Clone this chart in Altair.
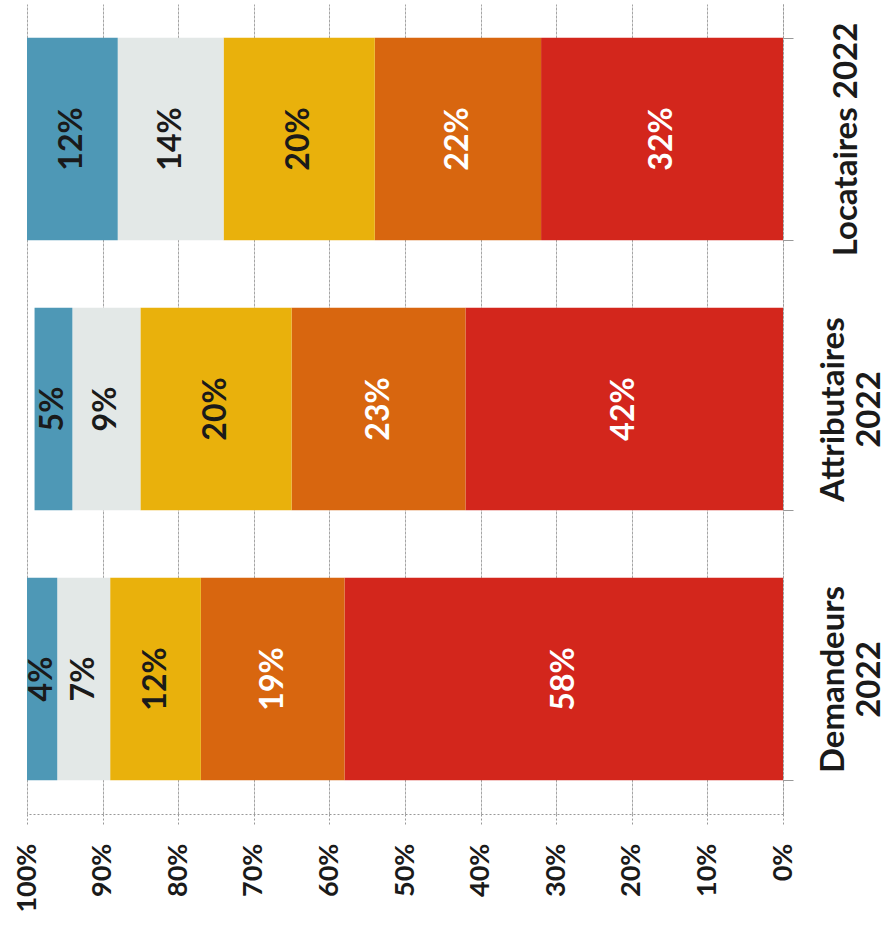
import altair as alt
import pandas as pd

# Categories (bottom to top once drawn) and the five shares of each bar,
# listed from the segment sitting on 0% to the one nearest 100%.
categories = ["Demandeurs 2022", "Attributaires 2022", "Locataires 2022"]
red_vals = [58, 42, 32]
orange_vals = [19, 23, 22]
yellow_vals = [12, 20, 20]
grey_vals = [7, 9, 14]
blue_vals = [4, 5, 12]

segment_names = ["rouge", "orange", "jaune", "gris", "bleu"]
segment_colors = ["#D3261C", "#D8660F", "#E9B10C", "#E3E8E7", "#4E98B6"]
label_colors = ["#FFFFFF", "#FFFFFF", "#1A1A1A", "#1A1A1A", "#1A1A1A"]
tick_values = [i / 10 for i in range(11)]

series = [red_vals, orange_vals, yellow_vals, grey_vals, blue_vals]
rows = []
for rank, (name, vals) in enumerate(zip(segment_names, series)):
    for cat, v in zip(categories, vals):
        rows.append({"categorie": cat, "segment": name, "rang": rank,
                     "valeur": v, "texte": f"{v}%",
                     "couleur_texte": label_colors[rank]})
df = pd.DataFrame(rows)

FONT = "Lato"
y_order = list(reversed(categories))

base = alt.Chart(df).transform_window(
    cumul="sum(valeur)", groupby=["categorie"], sort=[alt.SortField("rang")],
    frame=[None, 0]
).transform_calculate(
    debut="(datum.cumul - datum.valeur) / 100",
    fin="datum.cumul / 100",
    milieu="(datum.cumul - datum.valeur / 2) / 100",
)

y_enc = alt.Y(
    "categorie:N",
    sort=y_order,
    scale=alt.Scale(paddingInner=0.25, paddingOuter=0.125),
    axis=alt.Axis(
        orient="right", title=None, grid=False,
        labelAngle=270, labelAlign="center", labelBaseline="middle",
        labelExpr="datum.label == 'Locataires 2022' ? datum.label : split(datum.label, ' ')",
        labelFont=FONT, labelFontSize=33, labelFontWeight="bold",
        labelColor="#1A1A1A", labelLineHeight=36,
        labelPadding={"condition": {"test": "datum.value == 'Locataires 2022'", "value": 53},
                      "value": 40},
        labelLimit=400,
        tickBand="extent", tickSize=10, tickColor="#999999",
        domainColor="#999999", domainDash=[2, 2],
    ),
)

x_scale = alt.Scale(domain=[0, 1], reverse=True, nice=False)

bars = base.mark_bar().encode(
    x=alt.X(
        "debut:Q", scale=x_scale,
        axis=alt.Axis(
            values=tick_values, format=".0%", title=None,
            labelAngle=270, labelAlign="right", labelBaseline="middle",
            labelFont=FONT, labelFontSize=27, labelFontWeight="bold",
            labelColor="#1A1A1A", labelPadding=17,
            tickSize=12, tickColor="#999999", tickDash=[2, 2],
            domainColor="#999999", domainDash=[2, 2],
            gridColor="#A5A5A5", gridDash=[3, 1], gridWidth=1,
        ),
    ),
    x2="fin:Q",
    y=y_enc,
    color=alt.Color("segment:N", scale=alt.Scale(domain=segment_names, range=segment_colors),
                    legend=None),
)

labels = base.mark_text(
    angle=270, font=FONT, fontSize=32, fontWeight="bold",
    align="center", baseline="middle",
).encode(
    x=alt.X("milieu:Q", scale=x_scale),
    y=alt.Y("categorie:N", sort=y_order),
    text="texte:N",
    color=alt.Color("couleur_texte:N", scale=None),
)

chart = alt.layer(bars, labels).properties(
    width=756, height=810,
    padding={"left": 27, "top": 4, "right": 111, "bottom": 124},
    autosize=alt.AutoSizeParams(type="none"),
    background="white",
).configure_view(stroke=None)

chart.save("out.html", embed_options={"renderer": "svg", "actions": False})
